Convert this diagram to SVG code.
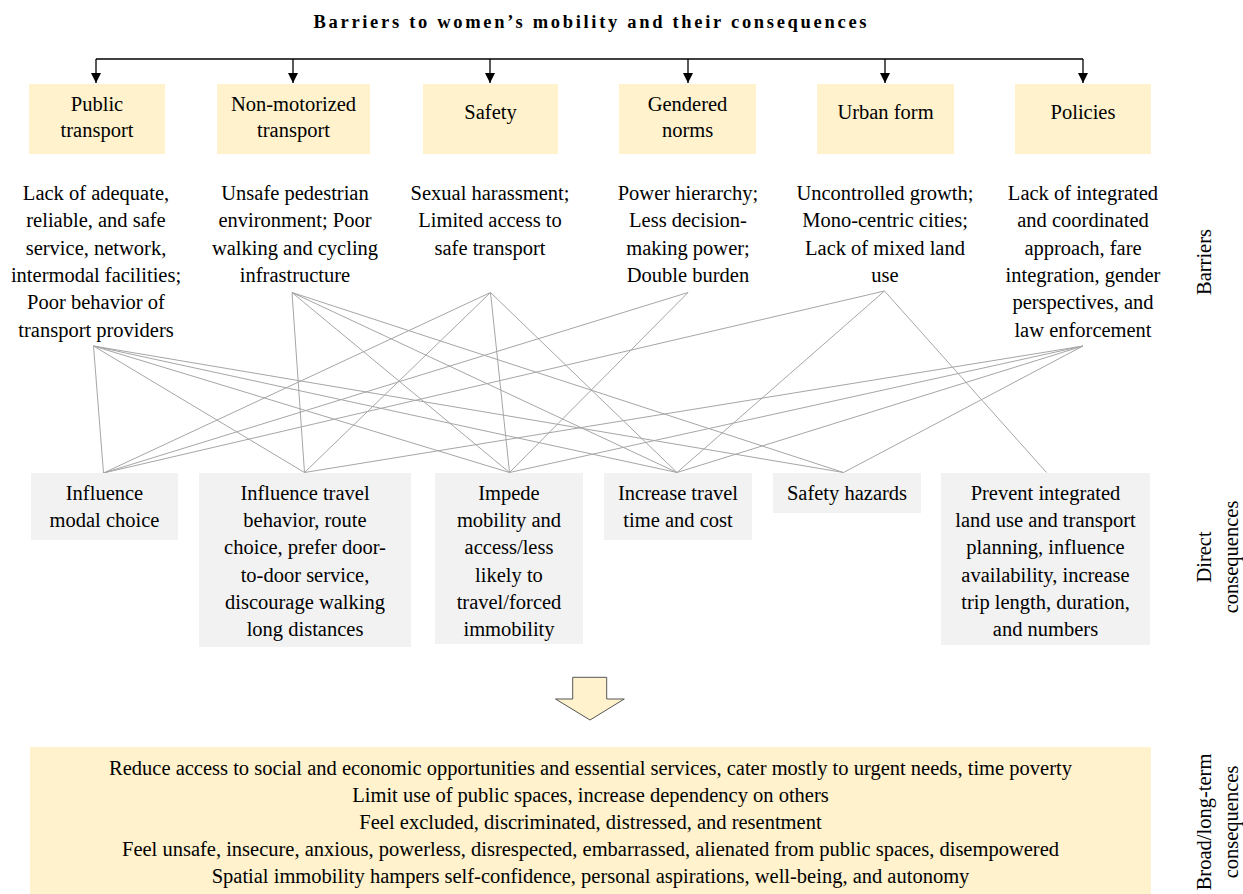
<svg xmlns="http://www.w3.org/2000/svg" width="1243" height="894" viewBox="0 0 1243 894">
<defs>
<style>
text{font-family:"Liberation Serif","Times New Roman",serif;font-size:20.5px;fill:#000;text-anchor:middle}
.title{font-weight:bold;font-size:18.5px}
.bar{fill:#FFF2CC}
.con{fill:#F2F2F2}
.tree{stroke:#000;stroke-width:1.3;fill:none}
.link{stroke:#A6A6A6;stroke-width:1;fill:none}
</style>
<marker id="ah" markerUnits="userSpaceOnUse" markerWidth="10" markerHeight="11" refX="10" refY="5" orient="auto">
<path d="M0,0 L10,5 L0,10 z" fill="#000"/>
</marker>
</defs>
<rect width="1243" height="894" fill="#fff"/>
<text class="title" x="590" y="28" textLength="553" lengthAdjust="spacing">Barriers to women’s mobility and their consequences</text>

<g id="connectors">
<path class="tree" d="M96,59 H1083"/>
<path class="tree" marker-end="url(#ah)" d="M96,59 V83"/>
<path class="tree" marker-end="url(#ah)" d="M293,59 V83"/>
<path class="tree" marker-end="url(#ah)" d="M490,59 V83"/>
<path class="tree" marker-end="url(#ah)" d="M688,59 V83"/>
<path class="tree" marker-end="url(#ah)" d="M885,59 V83"/>
<path class="tree" marker-end="url(#ah)" d="M1083,59 V83"/>
<g class="link">
<path d="M93.5,346 L103.5,473"/>
<path d="M93.5,346 L304.5,472.5"/>
<path d="M93.5,346 L509.5,472.5"/>
<path d="M93.5,346 L677,472.5"/>
<path d="M93.5,346 L843.5,472.5"/>
<path d="M292,292.5 L304.5,472.5"/>
<path d="M292,292.5 L509.5,472.5"/>
<path d="M292,292.5 L677,472.5"/>
<path d="M292,292.5 L843.5,472.5"/>
<path d="M490.5,292.5 L103.5,473"/>
<path d="M490.5,292.5 L304.5,472.5"/>
<path d="M490.5,292.5 L509.5,472.5"/>
<path d="M490.5,292.5 L677,472.5"/>
<path d="M688,292.5 L103.5,473"/>
<path d="M688,292.5 L509.5,472.5"/>
<path d="M884.5,291 L103.5,473"/>
<path d="M884.5,291 L677,472.5"/>
<path d="M884.5,291 L1046.5,472.5"/>
<path d="M1083,346 L304.5,472.5"/>
<path d="M1083,346 L509.5,472.5"/>
<path d="M1083,346 L677,472.5"/>
<path d="M1083,346 L843.5,472.5"/>
</g>
</g>

<g id="b1">
<rect class="bar" x="29" y="84" width="136" height="70"/>
<text x="97" y="111">Public</text>
<text x="97" y="137">transport</text>
<text x="96" y="200">Lack of adequate,</text>
<text x="96" y="227.3">reliable, and safe</text>
<text x="96" y="254.6">service, network,</text>
<text x="96" y="281.9">intermodal facilities;</text>
<text x="96" y="309.2">Poor behavior of</text>
<text x="96" y="336.5">transport providers</text>
</g>
<g id="b2">
<rect class="bar" x="217" y="84" width="153" height="70"/>
<text x="293.5" y="111">Non-motorized</text>
<text x="293.5" y="137">transport</text>
<text x="295" y="200">Unsafe pedestrian</text>
<text x="295" y="227.3">environment; Poor</text>
<text x="295" y="254.6">walking and cycling</text>
<text x="295" y="281.9">infrastructure</text>
</g>
<g id="b3">
<rect class="bar" x="423" y="84" width="135" height="70"/>
<text x="490.5" y="119">Safety</text>
<text x="490" y="200">Sexual harassment;</text>
<text x="490" y="227.3">Limited access to</text>
<text x="490" y="254.6">safe transport</text>
</g>
<g id="b4">
<rect class="bar" x="619" y="84" width="137" height="70"/>
<text x="687.5" y="111">Gendered</text>
<text x="687.5" y="137">norms</text>
<text x="688" y="200">Power hierarchy;</text>
<text x="688" y="227.3">Less decision-</text>
<text x="688" y="254.6">making power;</text>
<text x="688" y="281.9">Double burden</text>
</g>
<g id="b5">
<rect class="bar" x="817" y="84" width="137" height="70"/>
<text x="885.5" y="119">Urban form</text>
<text x="885" y="200">Uncontrolled growth;</text>
<text x="885" y="227.3">Mono-centric cities;</text>
<text x="885" y="254.6">Lack of mixed land</text>
<text x="885" y="281.9">use</text>
</g>
<g id="b6">
<rect class="bar" x="1015" y="84" width="136" height="70"/>
<text x="1083" y="119">Policies</text>
<text x="1083" y="200">Lack of integrated</text>
<text x="1083" y="227.3">and coordinated</text>
<text x="1083" y="254.6">approach, fare</text>
<text x="1083" y="281.9">integration, gender</text>
<text x="1083" y="309.2">perspectives, and</text>
<text x="1083" y="336.5">law enforcement</text>
</g>

<g id="c1">
<rect class="con" x="31" y="473" width="147" height="67"/>
<text x="104.5" y="500">Influence</text>
<text x="104.5" y="527.2">modal choice</text>
</g>
<g id="c2">
<rect class="con" x="199" y="473" width="212" height="174"/>
<text x="305" y="500">Influence travel</text>
<text x="305" y="527.2">behavior, route</text>
<text x="305" y="554.4">choice, prefer door-</text>
<text x="305" y="581.6">to-door service,</text>
<text x="305" y="608.8">discourage walking</text>
<text x="305" y="636">long distances</text>
</g>
<g id="c3">
<rect class="con" x="435" y="473" width="148" height="171"/>
<text x="509" y="500">Impede</text>
<text x="509" y="527.2">mobility and</text>
<text x="509" y="554.4">access/less</text>
<text x="509" y="581.6">likely to</text>
<text x="509" y="608.8">travel/forced</text>
<text x="509" y="636">immobility</text>
</g>
<g id="c4">
<rect class="con" x="604" y="473" width="148" height="67"/>
<text x="678" y="500">Increase travel</text>
<text x="678" y="527.2">time and cost</text>
</g>
<g id="c5">
<rect class="con" x="773" y="473" width="148" height="40"/>
<text x="847" y="500">Safety hazards</text>
</g>
<g id="c6">
<rect class="con" x="941" y="473" width="209" height="172"/>
<text x="1045.5" y="500">Prevent integrated</text>
<text x="1045.5" y="527.2">land use and transport</text>
<text x="1045.5" y="554.4">planning, influence</text>
<text x="1045.5" y="581.6">availability, increase</text>
<text x="1045.5" y="608.8">trip length, duration,</text>
<text x="1045.5" y="636">and numbers</text>
</g>

<g id="down-arrow">
<polygon points="572.7,677.3 606.7,677.3 606.7,699 624.3,699 590,720 555.5,699 572.7,699" fill="#FFF2CC" stroke="#555" stroke-width="1"/>
</g>

<g id="broad">
<rect class="bar" x="30" y="747" width="1121" height="147"/>
<text x="590.5" y="775">Reduce access to social and economic opportunities and essential services, cater mostly to urgent needs, time poverty</text>
<text x="590.5" y="802">Limit use of public spaces, increase dependency on others</text>
<text x="590.5" y="829">Feel excluded, discriminated, distressed, and resentment</text>
<text x="590.5" y="856">Feel unsafe, insecure, anxious, powerless, disrespected, embarrassed, alienated from public spaces, disempowered</text>
<text x="590.5" y="883">Spatial immobility hampers self-confidence, personal aspirations, well-being, and autonomy</text>
</g>

<g id="row-labels">
<text transform="translate(1211,262) rotate(-90)">Barriers</text>
<text transform="translate(1211,557) rotate(-90)">Direct</text>
<text transform="translate(1238,557) rotate(-90)">consequences</text>
<text transform="translate(1211,822) rotate(-90)">Broad/long-term</text>
<text transform="translate(1238,822) rotate(-90)">consequences</text>
</g>
</svg>
